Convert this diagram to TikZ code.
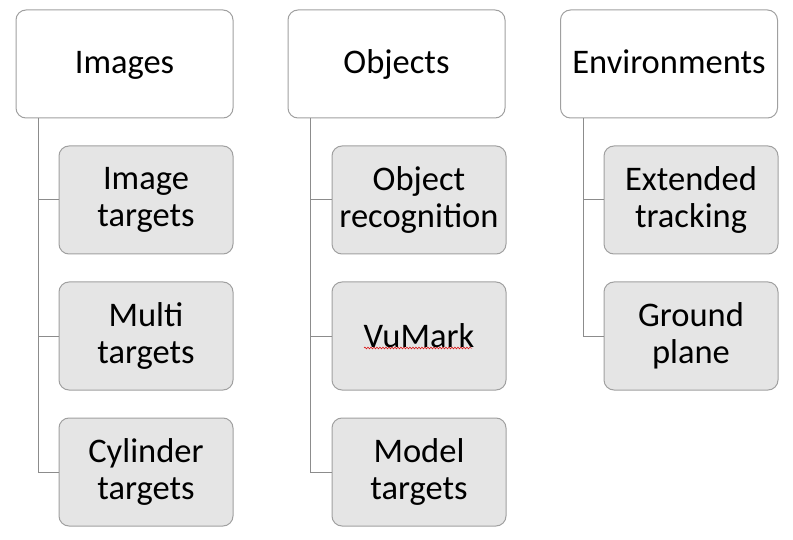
\documentclass[tikz,border=0pt]{standalone}
\usepackage{fontspec}
\setmainfont{Carlito}
\usetikzlibrary{decorations.pathmorphing}
\definecolor{boxline}{RGB}{160,160,160}
\definecolor{linkline}{RGB}{140,140,140}
\definecolor{childfill}{RGB}{229,229,229}
\begin{document}
\begin{tikzpicture}[x=1pt,y=-1pt,
  basebox/.style={line width=1pt, rounded corners=10pt, minimum height=108pt,
    inner sep=0pt, font=\fontsize{34.5}{37}\selectfont, align=center},
  topbox/.style={basebox, draw=boxline, fill=white, minimum width=217pt,
    text height=24pt, text depth=4pt},
  childbox/.style={basebox, draw=boxline, fill=childfill, minimum width=174pt},
  link/.style={draw=linkline, line width=1pt}]
\useasboundingbox (0,0) rectangle (793,540);

% top-level categories
\node[topbox] (img) at (124.5,64) {Images};
\node[topbox] (obj) at (396.5,64) {Objects};
\node[topbox] (env) at (669,64) {Environments};

% children
\node[childbox] (img1) at (146,200) {Image\\targets};
\node[childbox] (img2) at (146,336) {Multi\\targets};
\node[childbox] (img3) at (146,472) {Cylinder\\targets};
\node[childbox] (obj1) at (419,200) {Object\\recognition};
\node[childbox] (obj2) at (419,336) {VuMark};
\node[childbox] (obj3) at (419,472) {Model\\targets};
\node[childbox] (env1) at (691,200) {Extended\\tracking};
\node[childbox] (env2) at (691,336) {Ground\\plane};

% tree connectors
\foreach \p/\x/\last in {img/38/img3, obj/310/obj3, env/583/env2}{
  \draw[link] (\x,118) -- (\x,0 |- \last.west) -- (\last.west);
}
\foreach \c/\x in {img1/38, img2/38, obj1/310, obj2/310, env1/583}{
  \draw[link] (\x,0 |- \c.west) -- (\c.west);
}

% spell-check underline
\draw[red!85!black, line width=0.5pt, decorate,
  decoration={snake, amplitude=0.9pt, segment length=3pt}]
  (364,348) -- (472,348);
\end{tikzpicture}
\end{document}
